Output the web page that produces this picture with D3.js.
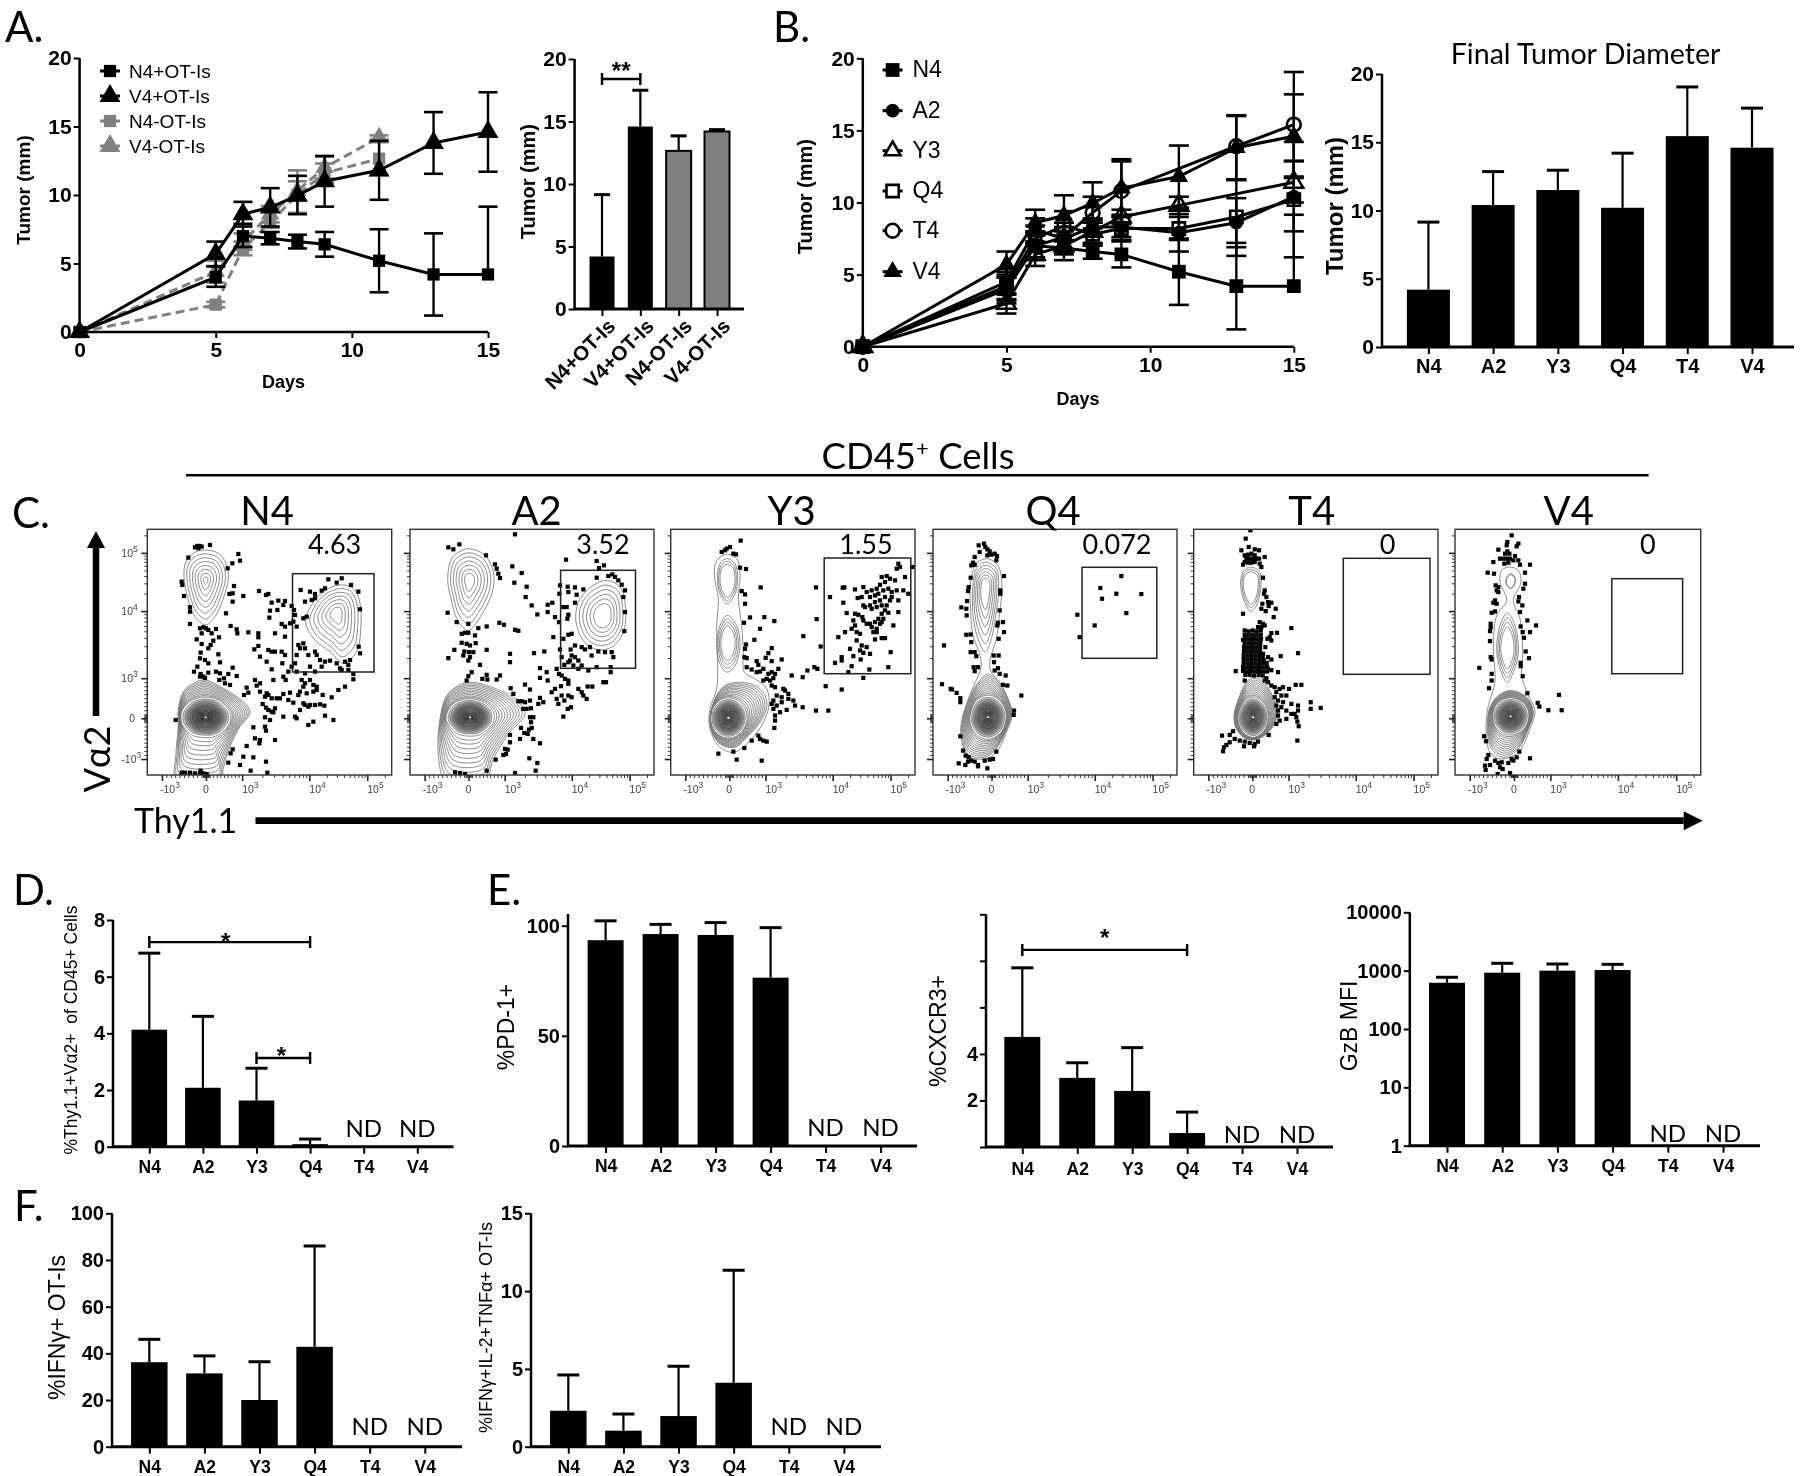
<!DOCTYPE html>
<html><head><meta charset="utf-8">
<script src="https://cdnjs.cloudflare.com/ajax/libs/d3/7.8.5/d3.min.js"></script>
<style>
html,body{margin:0;padding:0;background:#fff}
svg{display:block;filter:blur(0.45px)}
text{fill:#000;white-space:pre}
</style></head><body>
<script>
// ---------- shared categories ----------
const epitopes=['N4','A2','Y3','Q4','T4','V4'];
const groupsA=['N4+OT-Is','V4+OT-Is','N4-OT-Is','V4-OT-Is'];
const days=[0,5,6,7,8,9,11,13,15];
const daysGray=[0,5,6,7,8,9,11];

// ---------- panel A ----------
const aN4p=[0,4,7,6.85,6.6,6.4,5.2,4.2,4.2], aN4pHi=[0,4.8,7.9,7.3,7.1,7.3,7.5,7.2,9.15], aN4pLo=[0,3.3,6.2,6.4,6.1,5.5,2.9,1.2,4.2];
const aV4p=[0,5.7,8.6,9.1,9.95,11,11.8,13.8,14.6], aV4pHi=[0,6.6,9.5,10.5,11.4,12.85,13.95,16.05,17.5], aV4pLo=[0,4.8,7.7,7.7,8.6,9.15,9.65,11.55,11.7];
const aN4m=[0,2,6.1,8,10,11.6,12.65], aN4mHi=[0,2.2,6.6,9,11.8,12.3,13.85], aN4mLo=[0,1.8,5.6,7.6,8.7,10.9,11.45];
const aV4m=[0,4.4,6.6,8.6,10.3,12,14.2], aV4mHi=[0,5.2,7.2,9.2,11,12.8,14.35], aV4mLo=[0,3.6,6,8,9.6,11.2,14.05];
const aBarVals=[4.2,14.6,12.65,14.2], aBarHi=[9.15,17.5,13.85,14.35];

// ---------- panel B ----------
const bA2=[0,4.5,8.1,7.5,8.3,8.3,7.9,8.6,10.4], bA2Hi=[0,5.4,8.9,8.3,8.9,9,9.5,10.3,12.85], bA2Lo=[0,3.6,7.3,6.7,7.7,7.6,6.6,6.9,8];
const bY3=[0,3,6.4,7,8,9,9.8,null,11.4], bY3Hi=[0,3.7,7.2,8,8.8,9.5,10.4,null,12.9], bY3Lo=[0,2.3,5.6,6,7.2,8.5,9.2,null,10];
const bQ4=[0,4.2,7.5,8.4,7.8,8.2,8.2,9,10.2], bQ4Hi=[0,5.2,8.4,9.4,8.6,9,9,11.6,14.2], bQ4Lo=[0,3.2,6.6,7.4,7,7.4,7.4,6.3,6.2];
const bT4=[0,4,7,7.6,9.3,10.8,null,13.9,15.4], bT4Hi=[0,5,8,8.6,10.4,13,null,16,19.05], bT4Lo=[0,3,6,6.6,8.2,8.6,null,11.6,11.8];
const bBarVals=[4.2,10.4,11.5,10.2,15.45,14.6], bBarHi=[9.15,12.85,12.95,14.2,19.05,17.5];

// ---------- panels D, E, F ----------
const dVals=[4.13,2.08,1.63,0.09], dHi=[6.83,4.6,2.77,0.27];
const pd1Vals=[93.4,96.2,95.8,76.4], pd1Hi=[102.2,100.6,101.4,99.1];
const cxcr3Vals=[4.73,2.97,2.41,0.6], cxcr3Hi=[7.7,3.62,4.27,1.5];
const gzbVals=[620,922,1000,1025], gzbHi=[770,1337,1300,1283];
const ifnVals=[36.2,31.4,20,42.8], ifnHi=[46,38.9,36.4,86];
const triVals=[2.31,1.03,1.97,4.11], triHi=[4.61,2.1,5.17,11.34];

// ---------- panel C: flow events, in instrument channels of each panel ----------
const flowFreq=['4.63','3.52','1.55','0.072','0','0'];
const flowTicksX=[['-10','3',6],['0','',24],['10','3',38.8],['10','4',66.3],['10','5',90]];
const flowTicksY=[['-10','3',6.5],['0','',23.1],['10','3',39.4],['10','4',66.7],['10','5',90.4]];

const n4Events=[[165,82],[172,78],[178,78],[185,80],[175,85],[210,75],[145,113],[295,102],[300,122],[277,130],[263,145],[125,185],[127,195],[132,228],[282,198],[310,228],[278,220],[268,222],[278,245],[150,262],[150,275],[258,280],[150,312],[272,318],[290,328],[292,340],[325,337],[355,340],[355,352],[405,340],[435,350],[180,325],[190,322],[198,325],[205,330],[215,340],[228,327],[185,340],[170,358],[237,352],[220,362],[212,375],[205,385],[185,372],[182,398],[235,403],[180,415],[195,420],[205,430],[240,427],[172,440],[162,455],[182,462],[190,470],[205,458],[180,470],[195,474],[228,455],[240,460],[252,475],[278,443],[265,462],[290,468],[238,480],[255,490],[270,495],[320,503],[345,480],[360,490],[350,497],[325,518],[312,525],[360,515],[380,520],[385,525],[368,552],[378,563],[385,570],[395,575],[400,577],[390,600],[375,592],
[357,213],[378,225],[385,222],[395,248],[415,242],[435,243],[430,255],[412,270],[390,272],[388,293],[455,258],[462,270],[465,285],[460,305],[450,310],[470,320],[425,312],[435,320],[490,295],[500,290],[510,215],[525,222],[482,210],[495,245],[515,240],[525,235],[565,178],[605,175],[590,188],[633,195],[555,205],[545,212],[655,215],[660,268],[656,380],[660,400],[625,435],[630,420],[615,425],[480,385],[475,375],[490,370],[470,405],[465,430],[495,385],[505,405],[525,395],[530,405],[540,420],[555,425],[570,422],[590,430],[600,445],[605,450],[625,450],[640,462],[640,478],[615,500],[595,510],[575,532],[548,525],[530,510],[520,495],[510,480],[495,490],[485,480],[490,500],[480,515],[500,520],[520,515],[530,500],[445,455],[430,470],[437,480],[455,440],[470,455],[495,460],[510,440],[525,455],[545,440],[400,480],[385,390],[395,395],[405,395],[425,395],[435,405],[355,378],[343,388],[360,410],[380,425],[427,430],[395,448],[375,530],[395,535],[410,535],[420,535],[430,522],[450,518],[445,540],[460,548],[475,525],[490,550],[510,555],[525,555],[540,553],[553,557],[480,570],[495,555],[505,560],[470,595],[430,590],[405,565],[520,605],[505,615],[555,587],[580,600],[465,590],
[345,655],[360,660],[358,670],[320,678],[375,620],[378,632],[405,660],[340,622],[278,688],[272,700],[310,710],[340,712],[300,735],[265,728],[378,725],[332,752],[382,758],[107,600],[125,758],[135,758],[150,758],[165,760],[180,760],[190,760],[200,762],[182,752]];

const a2Events=[[330,27],[163,57],[130,66],[145,72],[243,90],[483,103],[575,107],[597,120],[582,128],[270,117],[275,130],[280,145],[285,158],[322,123],[350,143],[575,157],[610,152],[622,147],[630,155],[640,165],[650,178],[660,195],[655,215],[328,172],[365,184],[362,215],[380,240],[397,267],[428,238],[442,232],[428,260],[450,275],[465,180],[488,184],[510,186],[535,192],[463,205],[490,200],[515,208],[510,232],[128,262],[155,290],[190,295],[220,308],[245,303],[283,292],[297,298],[330,313],[340,316],[462,290],[490,268],[487,280],[475,245],[485,245],[660,260],[658,317],[170,325],[180,322],[210,330],[190,322],[445,335],[475,340],[490,328],[500,325],[170,352],[185,355],[195,360],[212,353],[148,373],[178,378],[205,380],[192,380],[245,373],[175,390],[195,395],[130,398],[190,405],[225,418],[315,385],[315,410],[387,383],[418,378],[465,372],[497,372],[510,360],[530,365],[540,372],[555,365],[580,378],[600,380],[620,380],[625,395],[560,390],[500,390],[510,395],[520,405],[495,405],[470,395],[478,418],[490,410],[505,420],[520,430],[530,420],[550,435],[575,425],[617,425],[617,440],[405,428],[425,440],[405,457],[428,465],[455,430],[462,445],[470,450],[480,460],[490,465],[200,440],[190,452],[185,465],[232,460],[245,448],[247,462],[275,462],[285,450],[360,477],[375,492],[317,488],[325,505],[400,535],[405,517],[415,530],[340,527],[350,527],[360,530],[375,525],[355,550],[365,550],[378,548],[440,500],[450,490],[468,482],[490,475],[520,490],[530,500],[548,483],[562,483],[595,470],[603,470],[470,510],[490,510],[500,515],[455,520],[460,535],[478,525],[498,545],[488,550],[535,510],[545,520],[475,573],[375,575],[385,575],[378,590],[348,607],[380,607],[372,612],[358,622],[368,625],[315,628],[345,640],[385,640],[405,653],[315,650],[300,670],[308,672],[295,688],[303,685],[272,702],[373,698],[397,712],[392,735],[330,742],[245,735],[150,740],[165,742],[180,745]];

const y3Events=[[1007,46],[975,65],[965,70],[950,80],[960,75],[985,85],[993,87],[1005,127],[1023,131],[1067,186],[1233,186],[1010,197],[1020,207],[1020,235],[1035,276],[1078,275],[1108,287],[1017,292],[1065,310],[1048,343],[1023,357],[1020,370],[1018,395],[1025,398],[1100,368],[1090,383],[1082,397],[1100,407],[1130,402],[1055,407],[1060,418],[1025,425],[1040,432],[1055,440],[1065,438],[1075,430],[1090,445],[1100,440],[1110,445],[1120,430],[1085,460],[1095,465],[1075,465],[1105,458],[1160,450],[1193,455],[1207,435],[1228,425],[1237,430],[1247,363],[1195,332],[1235,281],[1262,482],[1310,492],[1233,555],[1270,555],[1193,545],[1165,525],[1170,540],[1140,495],[1150,505],[1135,490],[1110,485],[1100,480],[1115,510],[1130,515],[1150,520],[1105,525],[1100,535],[1115,540],[1130,530],[1105,550],[1125,560],[1145,553],[1110,570],[1110,585],[1108,607],[1075,645],[1065,640],[1060,630],[1085,648],[1040,645],[1018,667],[985,678],[940,684],[995,702],[1070,705],
[1275,215],[1313,187],[1318,186],[1350,192],[1375,185],[1315,232],[1358,218],[1325,263],[1350,265],[1345,285],[1350,300],[1340,310],[1355,320],[1365,325],[1320,320],[1300,335],[1355,345],[1370,360],[1385,365],[1335,370],[1365,375],[1375,382],[1395,385],[1345,392],[1367,402],[1310,395],[1310,405],[1290,412],[1340,422],[1330,440],[1393,432],[1375,457],[1450,425],[1457,380],[1410,342],[1430,338],[1440,338],[1465,300],[1480,260],[1480,225],[1495,195],[1510,205],[1500,155],[1480,115],[1485,125],[1475,130],[1523,125],[1430,155],[1445,152],[1455,160],[1470,165],[1440,170],[1425,178],[1415,190],[1400,195],[1385,200],[1395,215],[1410,210],[1420,205],[1435,195],[1450,190],[1460,200],[1475,195],[1440,215],[1425,225],[1410,230],[1395,240],[1380,245],[1400,250],[1415,245],[1430,240],[1445,240],[1455,225],[1460,215],[1370,215],[1375,240],[1450,262],[1430,265],[1420,280],[1435,280],[1410,290],[1425,295],[1400,305],[1415,310],[1395,295],[1375,285],[1385,295],[1360,268],[1372,275],[1405,320],[1415,320],[1430,290],[1440,255]];

const q4Events=[[168,55],[152,60],[172,65],[178,72],[155,80],[185,78],[190,88],[200,85],[207,92],[178,90],[205,105],[140,95],[135,112],[130,120],[140,118],[228,152],[128,157],[122,185],[120,197],[217,195],[217,205],[117,227],[100,246],[115,250],[116,270],[215,255],[210,292],[208,300],[225,290],[228,320],[115,328],[128,327],[130,350],[212,340],[48,360],[128,380],[140,380],[145,392],[197,390],[212,390],[198,410],[137,425],[150,425],[140,437],[210,428],[200,435],[215,445],[233,450],[225,478],[238,480],[42,476],[68,490],[72,492],[86,502],[97,518],[97,530],[280,510],[258,555],[257,568],[97,632],[105,675],[113,690],[92,713],[112,718],[120,708],[130,705],[140,708],[150,718],[150,722],[178,728],[170,705],[185,702],[195,700],[205,678],[122,695],[448,268],[455,335],[500,300],[580,152],[517,188],[522,220],[565,205],[640,206],[595,263]];

const t4Events=[[967,15],[953,40],[940,75],[962,65],[980,72],[993,75],[1010,95],[993,100],[950,90],[960,88],[970,85],[980,90],[955,100],[965,100],[975,100],[985,100],[950,110],[960,112],[970,112],[980,110],[945,118],[995,115],[1000,125],[1005,157],[1010,195],[1008,205],[1015,215],[1020,230],[1003,235],[1030,232],[1022,242],[1043,250],[1013,257],[1000,250],[945,265],[1037,275],[1090,308],[1005,295],[995,290],[1000,305],[990,305],[1010,300],
[950,315],[962,318],[974,315],[986,318],[998,315],[950,328],[962,330],[974,328],[986,330],[998,328],[952,340],[963,342],[975,340],[987,342],[999,340],[950,352],[962,354],[974,352],[986,354],[997,352],[948,364],[960,366],[972,364],[984,366],[996,364],[948,376],[960,378],[972,376],[984,378],[996,376],[947,388],[959,390],[971,388],[983,390],[995,388],[1004,392],[947,400],[959,402],[971,400],[983,402],[995,400],[1007,404],[947,412],[959,414],[971,412],[983,414],[995,412],[1007,414],[1016,412],[945,424],[957,426],[969,424],[981,426],[993,424],[1005,426],[1017,424],[945,436],[957,438],[969,436],[981,438],[993,436],[1005,438],[1017,438],[1030,434],[952,448],[965,448],[978,450],[992,448],[1004,450],
[1030,323],[1047,322],[1018,340],[1030,345],[1025,335],[945,343],[1012,365],[1005,385],[1020,395],[1030,402],[1058,392],[1110,383],[923,437],[1050,440],[950,465],[1020,430],[1015,458],[1010,465],[1020,470],[1030,480],[1040,485],[1055,490],[1065,485],[1083,490],[1103,478],[1120,478],[1045,500],[1060,510],[1075,510],[1040,515],[1050,525],[1065,530],[1045,540],[1090,535],[1110,540],[1050,555],[1060,545],[1075,555],[1090,565],[1110,555],[1100,565],[1075,580],[1105,575],[1108,588],[1112,602],[1050,570],[1055,585],[1045,595],[1022,628],[1108,645],[1148,530],[1148,550],[1178,547],[915,617],[905,628],[882,630],[920,640],[905,650],[895,658],[888,665],[885,677],[935,645],[950,648],[965,652],[980,655],[990,648],[948,662],[978,662]];

const v4Events=[[185,30],[172,50],[170,60],[205,55],[200,63],[145,73],[172,78],[165,85],[178,85],[195,92],[150,100],[160,100],[170,100],[180,100],[190,105],[205,105],[130,110],[163,115],[175,112],[210,118],[240,118],[113,142],[132,145],[225,142],[225,175],[220,190],[137,180],[145,185],[140,195],[145,200],[207,215],[205,228],[217,240],[135,225],[140,235],[130,232],[125,262],[135,258],[210,260],[232,285],[258,300],[122,295],[122,305],[212,303],[120,317],[218,320],[240,320],[222,337],[120,347],[227,378],[122,395],[125,402],[237,398],[212,412],[212,422],[88,427],[125,445],[218,452],[125,465],[117,488],[232,503],[327,508],[263,532],[268,543],[295,554],[335,554],[102,632],[108,647],[240,698],[208,678],[115,688],[110,700],[105,720],[107,733],[120,718],[135,705],[145,712],[155,710],[150,725],[158,730],[175,712],[190,705],[200,695],[185,700],[143,745],[180,742]];

// density contours: outer outline of each population, its peak, and an optional dense core
const n4Pops=[
 {peak:[197,180],n:8,ring:[[197,90],[235,100],[258,130],[265,175],[250,235],[225,290],[197,315],[165,290],[145,240],[132,170],[138,125],[165,97]]},
 {peak:[590,280],n:7,ring:[[600,195],[640,205],[660,250],[662,330],[650,395],[610,430],[570,395],[520,355],[497,305],[515,255],[550,215]]},
 {peak:[197,592],core:[75,60],ring:[[195,480],[250,505],[320,555],[330,580],[300,620],[270,680],[250,745],[240,790],[110,790],[108,700],[115,620],[115,570],[130,515],[160,490]]}];
const a2Pops=[
 {peak:[193,165],n:7,ring:[[195,70],[240,90],[265,140],[262,200],[225,275],[190,315],[158,285],[138,220],[128,160],[140,100],[165,78]]},
 {peak:[595,272],n:6,ring:[[605,165],[645,185],[662,250],[655,320],[620,365],[575,372],[535,345],[512,280],[525,220],[565,180]]},
 {peak:[195,575],core:[72,55],ring:[[200,470],[260,485],[330,520],[360,565],[310,625],[265,700],[240,770],[125,770],[100,690],[105,580],[125,510],[160,480]]}];
const y3Pops=[
 {peak:[967,350],n:1,ring:[[965,87],[995,100],[1005,150],[1000,220],[1010,300],[1015,380],[1018,440],[1050,460],[1085,490],[1092,540],[1075,590],[1040,640],[985,680],[940,660],[913,600],[915,550],[935,490],[938,430],[935,300],[940,220],[928,150],[935,105]]},
 {peak:[967,165],n:3,ring:[[967,100],[990,115],[998,160],[990,205],[967,235],[945,205],[937,160],[945,115]]},
 {peak:[967,350],n:4,ring:[[967,270],[995,300],[1005,360],[990,420],[967,440],[945,415],[935,360],[945,300]]},
 {peak:[970,577],core:[55,60],ring:[[1000,470],[1050,480],[1080,510],[1085,545],[1065,590],[1030,630],[990,665],[945,655],[918,610],[918,560],[935,510],[960,480]]}];
const q4Pops=[
 {peak:[172,400],n:1,ring:[[178,100],[210,120],[222,190],[215,260],[205,340],[185,410],[190,440],[215,470],[240,520],[253,565],[235,620],[205,680],[170,700],[120,690],[100,640],[100,590],[125,510],[155,440],[160,420],[155,385],[135,330],[128,260],[128,170],[145,115]]},
 {peak:[172,185],n:6,ring:[[172,110],[205,130],[212,190],[205,260],[190,340],[172,380],[150,340],[135,270],[135,180],[145,130]]},
 {peak:[180,575],core:[55,65],ring:[[180,445],[215,475],[240,520],[250,565],[232,620],[200,675],[170,695],[120,685],[103,635],[103,585],[125,515],[155,465]]}];
const t4Pops=[
 {peak:[968,178],n:3,ring:[[968,125],[995,140],[998,190],[985,240],[968,258],[950,230],[938,180],[945,140]]},
 {peak:[975,575],core:[45,60],ring:[[980,452],[1015,480],[1040,525],[1050,560],[1030,610],[990,640],[955,640],[925,610],[918,570],[935,510],[955,470]]}];
const v4Pops=[
 {peak:[172,400],n:1,ring:[[178,125],[205,135],[213,170],[190,225],[210,280],[218,380],[215,450],[235,510],[255,555],[240,610],[205,680],[150,700],[120,680],[108,610],[115,540],[135,470],[130,370],[140,270],[170,225],[150,170],[155,135]]},
 {peak:[182,168],n:2,ring:[[182,145],[197,160],[190,185],[182,190],[170,180],[168,160]]},
 {peak:[172,370],n:4,ring:[[172,262],[195,300],[205,380],[190,440],[172,470],[150,430],[140,370],[150,300]]},
 {peak:[182,572],core:[55,55],ring:[[182,495],[230,515],[250,560],[235,610],[205,670],[160,695],[125,670],[112,610],[120,545],[145,510]]}];
const coreLevels=[1,.94,.88,.82,.76,.7,.64,.58,.52,.46,.41,.36,.32,.29,.26,.23,.2,.17,.15,.13,.11,.09,.07,.05,.03];
const islandLevels=[1,.87,.74,.61,.48,.35,.22,.1];

// ================= drawing =================
const SANS='"Liberation Sans",Arial,sans-serif', SLIDE='Lato,"Open Sans",sans-serif';
const svg=d3.select('body').append('svg').attr('width',1800).attr('height',1476);
svg.append('rect').attr('width',1800).attr('height',1476).attr('fill','#fff');

function label(t,x,y,size,opts={}){
  const s=svg.append('text').attr('x',x).attr('y',y).attr('font-size',size)
    .attr('font-family',opts.family||SLIDE).attr('font-weight',opts.weight||'normal')
    .attr('text-anchor',opts.anchor||'start').text(t);
  return s;
}
function vlabel(t,x,y,size,weight){
  return svg.append('text').attr('transform',`translate(${x},${y}) rotate(-90)`)
    .attr('text-anchor','middle').attr('dominant-baseline','middle')
    .attr('font-size',size).attr('font-family',SANS).attr('font-weight',weight||'normal').text(t);
}
function styleAxis(g,size,sw){
  g.select('.domain').remove();
  g.selectAll('.tick line').attr('stroke','#000').attr('stroke-width',sw);
  g.selectAll('.tick text').attr('font-family',SANS).attr('font-weight','bold').attr('font-size',size).attr('fill','#000');
}

function barPanel(c){
  const x=d3.scalePoint().domain(c.cats).range(c.xr);
  const y=(c.log?d3.scaleLog():d3.scaleLinear()).domain(c.domain).range([c.bottom,c.top]);
  const bw=c.barW;
  const g=svg.append('g');
  const rows=c.vals.map((v,i)=>({cat:c.cats[i],v,hi:c.hi[i],fill:c.fills?c.fills[i]:'#000'}));
  g.selectAll('.stem').data(rows).join('line').attr('x1',d=>x(d.cat)).attr('x2',d=>x(d.cat)).attr('y1',d=>y(d.v)).attr('y2',d=>y(d.hi)).attr('stroke','#000').attr('stroke-width',2.2);
  g.selectAll('.cap').data(rows).join('line').attr('x1',d=>x(d.cat)-c.cap).attr('x2',d=>x(d.cat)+c.cap).attr('y1',d=>y(d.hi)).attr('y2',d=>y(d.hi)).attr('stroke','#000').attr('stroke-width',3);
  g.selectAll('.bar').data(rows).join('rect').attr('x',d=>x(d.cat)-bw/2).attr('width',bw).attr('y',d=>y(d.v)).attr('height',d=>c.bottom-y(d.v)).attr('fill',d=>d.fill).attr('stroke',d=>d.fill==='#000'?'none':'#000').attr('stroke-width',2);
  const ya=svg.append('g').attr('transform',`translate(${c.axisX},0)`).call(d3.axisLeft(y).tickValues(c.ticks).tickSize(6).tickPadding(2).tickFormat(c.fmt||(d=>d)));
  styleAxis(ya,c.tickFont,2);
  const xa=svg.append('g').attr('transform',`translate(0,${c.bottom})`).call(d3.axisBottom(x).tickSize(7).tickPadding(c.catPad));
  styleAxis(xa,c.catFont,2);
  if(c.rotate){xa.selectAll('.tick text').attr('text-anchor','end').attr('transform','rotate(-45)').attr('dx',-3).attr('dy',12);}
  svg.append('line').attr('x1',c.axisX).attr('x2',c.axisX).attr('y1',c.top).attr('y2',c.bottom+1).attr('stroke','#000').attr('stroke-width',2.5);
  svg.append('line').attr('x1',c.axisX-1).attr('x2',c.endX).attr('y1',c.bottom).attr('y2',c.bottom).attr('stroke','#000').attr('stroke-width',3);
  (c.nd||[]).forEach(k=>label('ND',x(k),c.ndY,c.ndSize||24,{anchor:'middle'}));
  (c.brackets||[]).forEach(b=>{
    const x1=x(b.from),x2=x(b.to),by=y(b.at);
    svg.append('path').attr('d',`M${x1},${by-6}V${by+6}M${x1},${by}H${x2}M${x2},${by-6}V${by+6}`).attr('fill','none').attr('stroke','#000').attr('stroke-width',2.4);
    label(b.mark,(x1+x2)/2+(b.dx||0),by+b.dy,24,{family:SANS,weight:'bold',anchor:'middle'});
  });
}

function linePanel(c){
  const x=d3.scaleLinear().domain([0,15]).range(c.xr);
  const y=d3.scaleLinear().domain([0,20]).range([c.bottom,c.top]);
  const line=d3.line().x(d=>x(d.d)).y(d=>y(d.v));
  const sym=(t,s)=>d3.symbol().type(t).size(s)();
  c.series.forEach(s=>{
    const pts=s.days.map((d,i)=>({d,v:s.v[i],hi:s.hi[i],lo:s.lo[i]})).filter(p=>p.v!==null);
    const g=svg.append('g');
    g.append('path').attr('d',line(pts)).attr('fill','none').attr('stroke',s.color).attr('stroke-width',3).attr('stroke-dasharray',s.dash||null);
    const ep=pts.filter(p=>p.d>0);
    g.selectAll('.st').data(ep).join('line').attr('x1',p=>x(p.d)).attr('x2',p=>x(p.d)).attr('y1',p=>y(p.lo)).attr('y2',p=>y(p.hi)).attr('stroke',s.color).attr('stroke-width',2.4);
    ['hi','lo'].forEach(k=>g.selectAll('.cp'+k).data(ep.filter(p=>p[k]!==p.v)).join('line').attr('x1',p=>x(p.d)-c.cap).attr('x2',p=>x(p.d)+c.cap).attr('y1',p=>y(p[k])).attr('y2',p=>y(p[k])).attr('stroke',s.color).attr('stroke-width',2.6));
    g.selectAll('.mk').data(pts).join('path').attr('transform',p=>`translate(${x(p.d)},${y(p.v)})`).attr('d',sym(s.sym,s.size||150))
      .attr('fill',s.open?'none':s.color).attr('stroke',s.color).attr('stroke-width',s.open?2.6:0);
  });
  const ya=svg.append('g').attr('transform',`translate(${c.xr[0]},0)`).call(d3.axisLeft(y).tickValues([0,5,10,15,20]).tickSize(6).tickPadding(2));
  styleAxis(ya,c.tickFont,2);
  const xa=svg.append('g').attr('transform',`translate(0,${c.bottom})`).call(d3.axisBottom(x).tickValues([0,5,10,15]).tickSize(6).tickPadding(4));
  styleAxis(xa,c.tickFont,2);
  svg.append('line').attr('x1',c.xr[0]).attr('x2',c.xr[0]).attr('y1',c.top).attr('y2',c.bottom).attr('stroke','#000').attr('stroke-width',2.5);
  svg.append('line').attr('x1',c.xr[0]).attr('x2',c.xr[1]).attr('y1',c.bottom).attr('y2',c.bottom).attr('stroke','#000').attr('stroke-width',2.5);
  c.legend.forEach((l,i)=>{
    const ly=c.legY[i];
    svg.append('line').attr('x1',c.legX-10).attr('x2',c.legX+10).attr('y1',ly).attr('y2',ly).attr('stroke',l.color).attr('stroke-width',3);
    svg.append('path').attr('transform',`translate(${c.legX},${ly})`).attr('d',sym(l.sym,l.size||150)).attr('fill',l.open?'#fff':l.color).attr('stroke',l.color).attr('stroke-width',l.open?2.6:0);
    label(l.name,c.legTextX,ly+7,c.legFont,{family:SANS});
  });
}

// Panel A
const S=d3.symbolSquare,T=d3.symbolTriangle,C=d3.symbolCircle;
const grayDash='9,5';
linePanel({xr:[79.6,488],top:58,bottom:332,cap:9.5,tickFont:21,legX:110,legTextX:129,legFont:19,legY:[71,96,121,146],
  series:[
   {days:daysGray,v:aN4m,hi:aN4mHi,lo:aN4mLo,color:'#808080',sym:S,dash:grayDash},
   {days:daysGray,v:aV4m,hi:aV4mHi,lo:aV4mLo,color:'#808080',sym:T,dash:grayDash},
   {days:days,v:aN4p,hi:aN4pHi,lo:aN4pLo,color:'#000',sym:S},
   {days:days,v:aV4p,hi:aV4pHi,lo:aV4pLo,color:'#000',sym:T,size:190}],
  legend:[{name:groupsA[0],color:'#000',sym:S},{name:groupsA[1],color:'#000',sym:T,size:190},{name:groupsA[2],color:'#808080',sym:S},{name:groupsA[3],color:'#808080',sym:T,size:190}]});
barPanel({cats:groupsA,xr:[602,717],axisX:574.6,endX:744,top:59,bottom:309,domain:[0,20],ticks:[0,5,10,15,20],vals:aBarVals,hi:aBarHi,barW:25,cap:8,tickFont:21,catFont:20.5,catPad:4,rotate:true,fills:['#000','#000','#808080','#808080'],
  brackets:[{from:groupsA[0],to:groupsA[1],at:18.4,mark:'**',dy:0}]});
vlabel('Tumor (mm)',25,190,19,'bold');
label('Days',283.6,387.7,18,{family:SANS,weight:'bold',anchor:'middle'});
vlabel('Tumor (mm)',530,181.7,20,'bold');

// Panel B
linePanel({xr:[862.8,1293.8],top:58.3,bottom:346.7,cap:10,tickFont:21,legX:892.6,legTextX:912.5,legFont:23,legY:[70,110.7,150.7,191,230.7,271.7],
  series:[
   {days:days,v:bA2,hi:bA2Hi,lo:bA2Lo,color:'#000',sym:C},
   {days:days,v:bY3,hi:bY3Hi,lo:bY3Lo,color:'#000',sym:T,open:true},
   {days:days,v:bQ4,hi:bQ4Hi,lo:bQ4Lo,color:'#000',sym:S,open:true},
   {days:days,v:bT4,hi:bT4Hi,lo:bT4Lo,color:'#000',sym:C,open:true},
   {days:days,v:aV4p,hi:aV4pHi,lo:aV4pLo,color:'#000',sym:T},
   {days:days,v:aN4p,hi:aN4pHi,lo:aN4pLo,color:'#000',sym:S,size:190}],
  legend:[{name:'N4',color:'#000',sym:S,size:190},{name:'A2',color:'#000',sym:C},{name:'Y3',color:'#000',sym:T,open:true,size:110},{name:'Q4',color:'#000',sym:S,open:true},{name:'T4',color:'#000',sym:C,open:true},{name:'V4',color:'#000',sym:T}]});
vlabel('Tumor (mm)',806.4,196.7,20,'bold');
label('Days',1078,405,18,{family:SANS,weight:'bold',anchor:'middle'});
barPanel({cats:epitopes,xr:[1428.4,1752],axisX:1382,endX:1794,top:74,bottom:347,domain:[0,20],ticks:[0,5,10,15,20],vals:bBarVals,hi:bBarHi,barW:43,cap:11,tickFont:21,catFont:20,catPad:5,});
vlabel('Tumor (mm)',1337,206,24,'bold');
label('Final Tumor Diameter',1585.6,64,28.6,{anchor:'middle'});

// Panel letters
[['A.',5,41.5],['B.',773,41.5],['C.',12,528],['D.',13,905],['E.',487,905],['F.',14,1221]].forEach(d=>label(d[0],d[1],d[2],42));

// Panel C header
const hdr=label('',918,469,36.5,{anchor:'middle'});
hdr.append('tspan').text('CD45');
hdr.append('tspan').attr('dy',-13).attr('font-size',22).text('+');
hdr.append('tspan').attr('dy',13).text(' Cells');
svg.append('line').attr('x1',186).attr('x2',1648.6).attr('y1',475.3).attr('y2',475.3).attr('stroke','#000').attr('stroke-width',2.6);

function ringAt(pop,k){
  const [cx,cy]=pop.peak;
  return pop.ring.map(p=>{
    const dx=p[0]-cx,dy=p[1]-cy;
    if(!pop.core) return [cx+k*dx,cy+k*dy];
    const a=Math.atan2(dy,dx),ex=pop.core[0]*Math.cos(a),ey=pop.core[1]*Math.sin(a);
    if(k<.35) return [cx+k/.35*ex,cy+k/.35*ey];
    const t=(k-.35)/.65;
    return [cx+t*dx+(1-t)*ex,cy+t*dy+(1-t)*ey];
  });
}

const flowPanels=[
 {name:'N4',events:n4Events,pops:n4Pops,left:147.3,right:391.7,chX:[22,755],chY:[28,765],gate:[292.5,374,573.7,672],tx:267,fx:334.6},
 {name:'A2',events:a2Events,pops:a2Pops,left:410,right:654,chX:[15,747],chY:[12,748],gate:[560.6,635.5,570.3,668.3],tx:536.6,fx:603},
 {name:'Y3',events:y3Events,pops:y3Pops,left:670.7,right:915,chX:[797,1530],chY:[12,748],gate:[824.2,910.8,558,673.7],tx:791.7,fx:866},
 {name:'Q4',events:q4Events,pops:q4Pops,left:933,right:1177,chX:[15,747],chY:[12,748],gate:[1082,1156.8,567.3,658.3],tx:1053,fx:1117},
 {name:'T4',events:t4Events,pops:t4Pops,left:1193.7,right:1438,chX:[797,1530],chY:[12,748],gate:[1343.3,1430,558.3,674.3],tx:1311.7,fx:1387.6},
 {name:'V4',events:v4Events,pops:v4Pops,left:1455,right:1700.7,chX:[15,752],chY:[12,748],gate:[1611.8,1682.6,578.7,673.7],tx:1568.7,fx:1647.8}];
const flowTop=529.3,flowBottom=775;
const defs=svg.append('defs');

function minorTicks(maj){ // display channels of the biexponential grid between decades
  const out=[];
  const logPart=(a,b)=>{for(let k=2;k<10;k++)out.push(a+(b-a)*Math.log10(k));};
  logPart(maj[2],maj[3]);logPart(maj[3],maj[4]);
  out.push(maj[4]+(maj[4]-maj[3])*Math.log10(2));
  for(let k=1;k<10;k++){out.push(maj[0]+(maj[1]-maj[0])*k/10);out.push(maj[1]+(maj[2]-maj[1])*k/10);}
  [-1.2,-.8,-.4,.4,.8,1.2].forEach(o=>out.push(maj[1]+o));
  return out;
}

flowPanels.forEach((p,i)=>{
  const xs=d3.scaleLinear().domain(p.chX).range([p.left,p.right]);
  const ys=d3.scaleLinear().domain(p.chY).range([flowTop,flowBottom]);
  const id='clip'+i;
  defs.append('clipPath').attr('id',id).append('rect').attr('x',p.left).attr('y',flowTop).attr('width',p.right-p.left).attr('height',flowBottom-flowTop);
  const g=svg.append('g').attr('clip-path',`url(#${id})`);
  const cl=d3.line().curve(d3.curveCatmullRomClosed).x(d=>xs(d[0])).y(d=>ys(d[1]));
  p.pops.forEach(pop=>{
    const levels=pop.core?coreLevels:islandLevels.slice(0,pop.n);
    levels.forEach(k=>{
      g.append('path').attr('d',cl(ringAt(pop,k))).attr('stroke','#777').attr('stroke-width',.85)
       .attr('fill',pop.core&&k<.35?'#000':'none').attr('fill-opacity',.22);
    });
    if(pop.core) g.append('circle').attr('cx',xs(pop.peak[0])).attr('cy',ys(pop.peak[1])).attr('r',1.1).attr('fill','#fff');
  });
  g.selectAll('.ev').data(p.events).join('rect').attr('x',d=>xs(d[0])-2.1).attr('y',d=>ys(d[1])-2.1).attr('width',4.2).attr('height',4.2).attr('fill','#000');
  // panel frame + gate
  svg.append('rect').attr('x',p.left).attr('y',flowTop).attr('width',p.right-p.left).attr('height',flowBottom-flowTop).attr('fill','none').attr('stroke','#333').attr('stroke-width',1.4);
  svg.append('rect').attr('x',p.gate[0]).attr('y',p.gate[2]).attr('width',p.gate[1]-p.gate[0]).attr('height',p.gate[3]-p.gate[2]).attr('fill','none').attr('stroke','#222').attr('stroke-width',1.5);
  // axes
  const tx=d3.scaleLinear().domain([0,100]).range([p.left,p.right]);
  const ty=d3.scaleLinear().domain([0,100]).range([flowBottom,flowTop]);
  const mx=flowTicksX.map(d=>d[2]),my=flowTicksY.map(d=>d[2]);
  const ax=[[d3.axisBottom(tx).tickValues(mx).tickSize(6),`translate(0,${flowBottom})`,1.6],
            [d3.axisBottom(tx).tickValues(minorTicks(mx)).tickSize(3),`translate(0,${flowBottom})`,.9],
            [d3.axisLeft(ty).tickValues(my).tickSize(6),`translate(${p.left},0)`,1.6],
            [d3.axisLeft(ty).tickValues(minorTicks(my)).tickSize(3),`translate(${p.left},0)`,.9]];
  ax.forEach(a=>{
    const ag=svg.append('g').attr('transform',a[1]).call(a[0].tickFormat(''));
    ag.select('.domain').remove();
    ag.selectAll('line').attr('stroke','#222').attr('stroke-width',a[2]);
  });
  flowTicksX.forEach(t=>{
    const anchorX=t[1]?tx(t[2])+(t[0]==='-10'?-2:0):tx(t[2])-3;
    const tl=label('',anchorX,793,10.5,{family:SANS});
    tl.append('tspan').attr('fill','#444').text(t[0]);
    if(t[1]) tl.append('tspan').attr('fill','#444').attr('dy',-5).attr('font-size',8.5).text(t[1]);
  });
  if(i===0) flowTicksY.forEach(t=>{
    const tl=label('',p.left-(t[1]?26:18),ty(t[2])+4,10.5,{family:SANS});
    tl.append('tspan').attr('fill','#444').text(t[0]);
    if(t[1]) tl.append('tspan').attr('fill','#444').attr('dy',-5).attr('font-size',8.5).text(t[1]);
  });
  label(p.name,p.tx,525,40,{anchor:'middle'});
  label(flowFreq[i],p.fx,554,27,{anchor:'middle'});
});

// C axes arrows
function arrow(x1,y1,x2,y2,w,head,len){
  const dx=x2-x1,dy=y2-y1,L=Math.hypot(dx,dy),ux=dx/L,uy=dy/L,bx=x2-ux*len,by=y2-uy*len,nx=-uy,ny=ux;
  svg.append('line').attr('x1',x1).attr('y1',y1).attr('x2',bx).attr('y2',by).attr('stroke','#000').attr('stroke-width',w);
  svg.append('path').attr('d',`M${x2},${y2}L${bx+nx*head/2},${by+ny*head/2}L${bx-nx*head/2},${by-ny*head/2}Z`).attr('fill','#000');
}
arrow(96,716,96,531,6.5,18,17);
arrow(255.5,820.7,1702.7,820.7,6.7,19,19);
svg.append('text').attr('transform','translate(110,759) rotate(-90)').attr('text-anchor','middle').attr('font-size',36).attr('font-family',SLIDE).text('Vα2');
label('Thy1.1',134,832.7,34);

// Panel D
barPanel({cats:epitopes,xr:[149.3,417.3],axisX:113,endX:453.5,top:920,bottom:1146.7,domain:[0,8],ticks:[0,2,4,6,8],vals:dVals,hi:dHi,barW:35.6,cap:11,tickFont:20,catFont:17.5,catPad:7,nd:['T4','V4'],ndY:1137,
  brackets:[{from:'N4',to:'Q4',at:7.22,mark:'*',dy:8,dx:-4},{from:'Y3',to:'Q4',at:3.13,mark:'*',dy:6,dx:-2}]});
vlabel('%Thy1.1+Vα2+  of CD45+ Cells',72,1030,17.5);

// Panel E
barPanel({cats:epitopes,xr:[605.6,880.6],axisX:568,endX:917,top:914,bottom:1146,domain:[0,105.3],ticks:[0,50,100],vals:pd1Vals,hi:pd1Hi,barW:36,cap:11,tickFont:20,catFont:17.5,catPad:7,nd:['T4','V4'],ndY:1136});
vlabel('%PD-1+',508,1027,23);
barPanel({cats:epitopes,xr:[1022.3,1297],axisX:986,endX:1333,top:914.3,bottom:1147,domain:[0,10],ticks:[0,2,4,6,8,10],fmt:d=>(d===2||d===4)?d:'',vals:cxcr3Vals,hi:cxcr3Hi,barW:36,cap:11,tickFont:20,catFont:17.5,catPad:9,nd:['T4','V4'],ndY:1143,
  brackets:[{from:'N4',to:'Q4',at:8.47,mark:'*',dy:-4}]});
vlabel('%CXCR3+',940,1031,23);
barPanel({cats:epitopes,xr:[1447,1723],axisX:1409.8,endX:1760,top:912.3,bottom:1145.7,log:true,domain:[1,10000],ticks:[1,10,100,1000,10000],fmt:d3.format('d'),vals:gzbVals,hi:gzbHi,barW:36,cap:11,tickFont:20,catFont:17.5,catPad:7,nd:['T4','V4'],ndY:1141.7});
vlabel('GzB MFI',1350.6,1026,23);

// Panel F
barPanel({cats:epitopes,xr:[149.3,424.8],axisX:112,endX:462,top:1213.3,bottom:1446.7,domain:[0,100],ticks:[0,20,40,60,80,100],vals:ifnVals,hi:ifnHi,barW:36.5,cap:11,tickFont:20,catFont:17.5,catPad:7,nd:['T4','V4'],ndY:1435});
vlabel('%IFNγ+ OT-Is',59,1327.5,23);
barPanel({cats:epitopes,xr:[568.3,843.9],axisX:531,endX:881,top:1213.3,bottom:1446.7,domain:[0,15],ticks:[0,5,10,15],vals:triVals,hi:triHi,barW:36.5,cap:11,tickFont:20,catFont:17.5,catPad:7,nd:['T4','V4'],ndY:1435});
vlabel('%IFNγ+IL-2+TNFα+ OT-Is',486.8,1327.6,18);
</script>
</body></html>
